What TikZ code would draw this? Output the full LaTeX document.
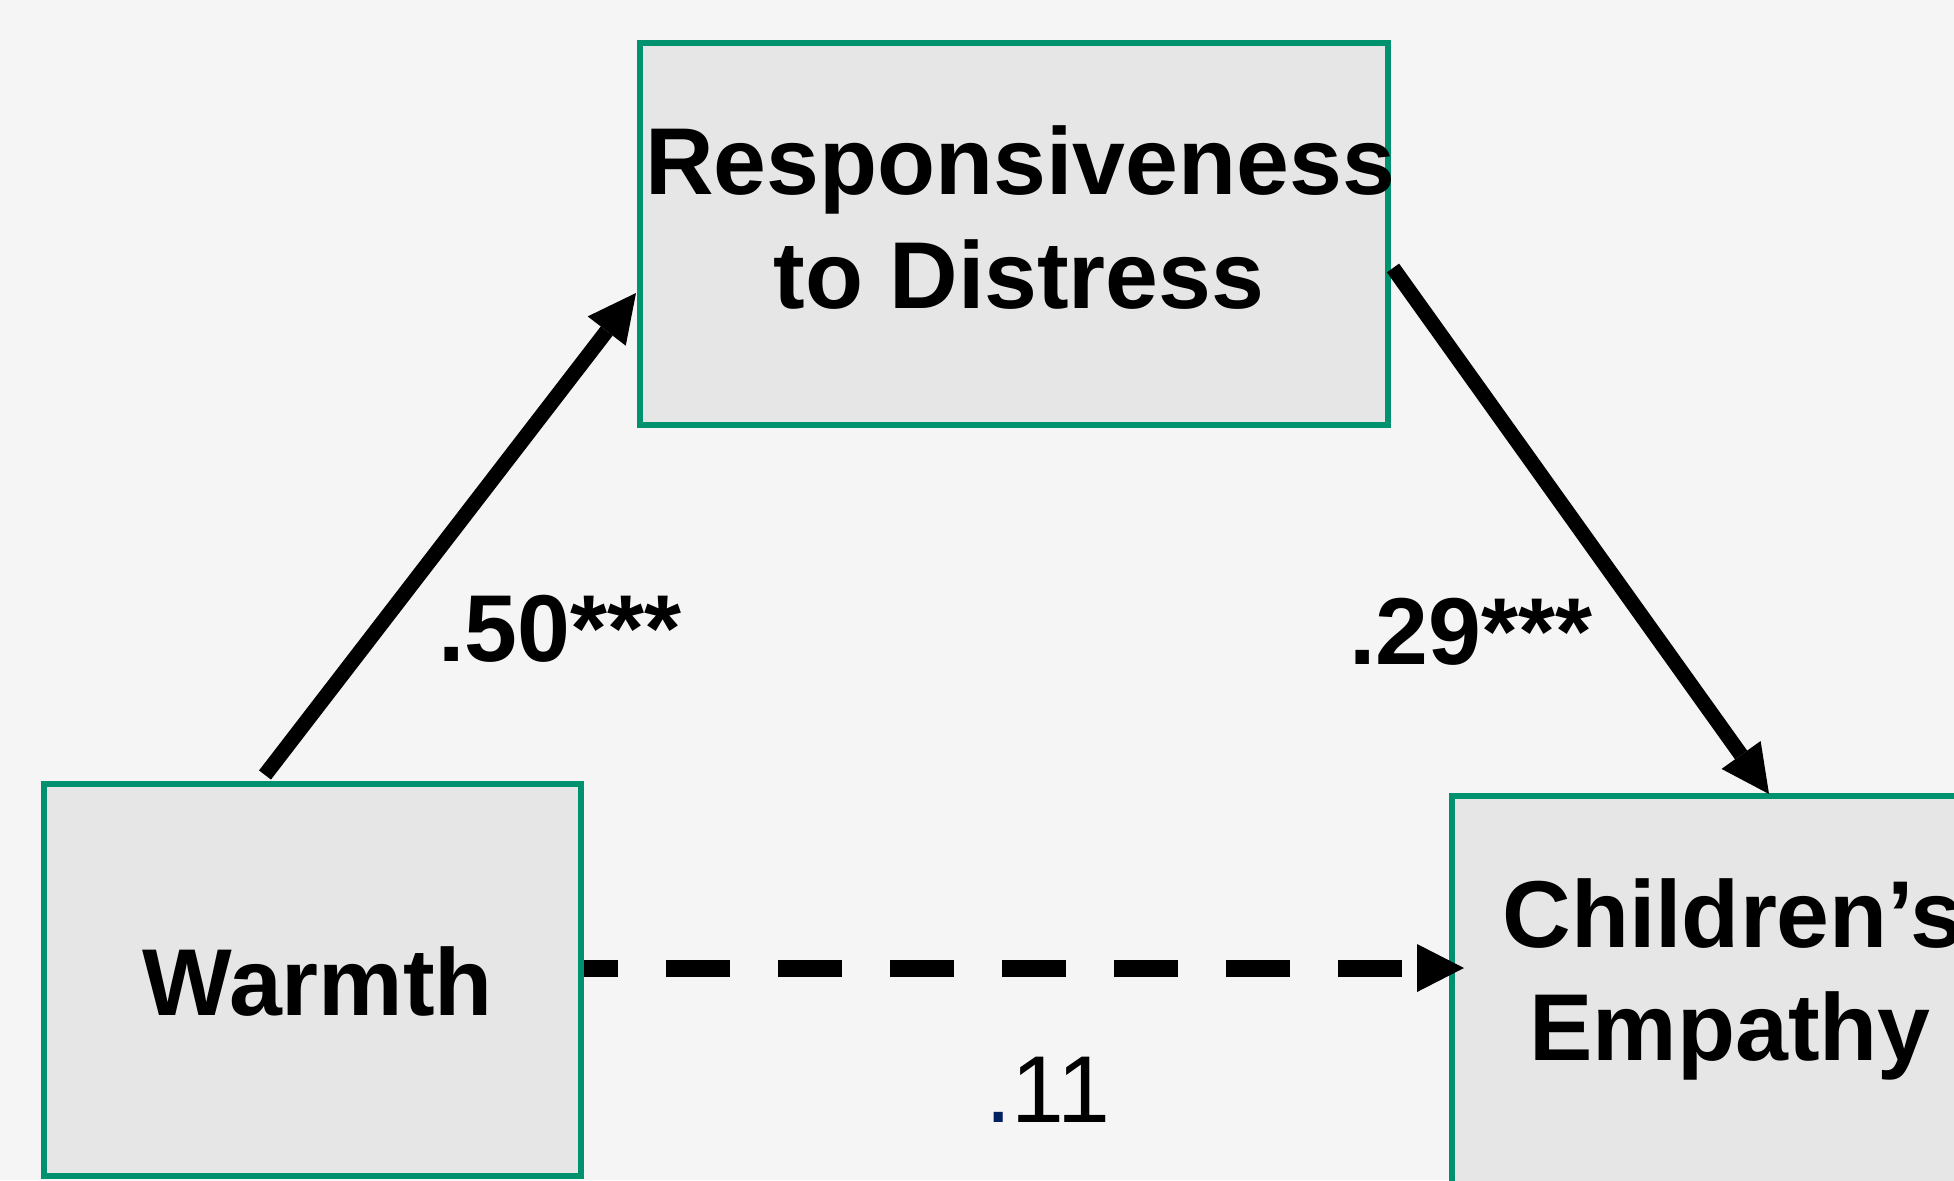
\documentclass[tikz,border=0pt]{standalone}
\usepackage{fontspec}
\setmainfont{Liberation Sans}
\usetikzlibrary{arrows.meta,calc}
\definecolor{bg}{HTML}{F5F5F5}
\definecolor{boxfill}{HTML}{E6E6E6}
\definecolor{boxline}{HTML}{00916E}
\definecolor{navy}{HTML}{002060}
\begin{document}
\begin{tikzpicture}[x=0.5pt,y=-0.5pt,
  box/.style={draw=boxline, line width=3pt, fill=boxfill, rectangle, inner sep=0pt},
  lbl/.style={font=\fontsize{47.5}{56.5}\selectfont\bfseries, anchor=base, inner sep=0pt},
  coefreg/.style={font=\fontsize{47.5}{56.5}\selectfont, anchor=base, inner sep=0pt},
  conn/.style={line width=7.5pt, -{Triangle[length=24pt,width=24pt,line width=0pt]}},
  dashconn/.style={line width=8.5pt, dash pattern=on 32pt off 24pt, dash phase=15pt,
                   -{Triangle[length=23.5pt,width=24pt,line width=0pt]}}
  ]
\fill[bg] (0,0) rectangle (1954,1180);
\useasboundingbox (0,0) rectangle (1954,1180);
\clip (0,0) rectangle (1954,1180);

\node[box, minimum width=374pt, minimum height=191pt] (resp) at (1014,234) {};
\node[box, minimum width=268.5pt, minimum height=196pt] (warmth) at (312.5,980) {};
\node[box, minimum width=268.5pt, minimum height=196pt] (child) at (1720.5,992) {};

\node[lbl] (respA) at (1020,194) {Responsiveness};
\node[lbl] (respB) at (1019,308) {to Distress};
\node[lbl] (warmthT) at (318,1015) {Warmth};
\node[lbl] (childA) at (1733,947) {Children’s};
\node[lbl] (childB) at (1730,1060) {Empathy};

\node[lbl] (c1) at (560,661) {.50***};
\node[lbl] (c2) at (1471,664) {.29***};
\node[coefreg] (c3) at (1048,1122) {\textcolor{navy}{.}11};

\draw[conn] ($(warmth.north)+(-47.5,-6)$) -- ($(resp.west)+(-1,59)$);
\draw[conn] ($(resp.east)+(2,34)$) -- ($(child.north)+(48.5,1)$);
\draw[dashconn] ($(warmth.east)+(0,-12)$) -- ($(child.west)+(15,-24)$);
\end{tikzpicture}
\end{document}
